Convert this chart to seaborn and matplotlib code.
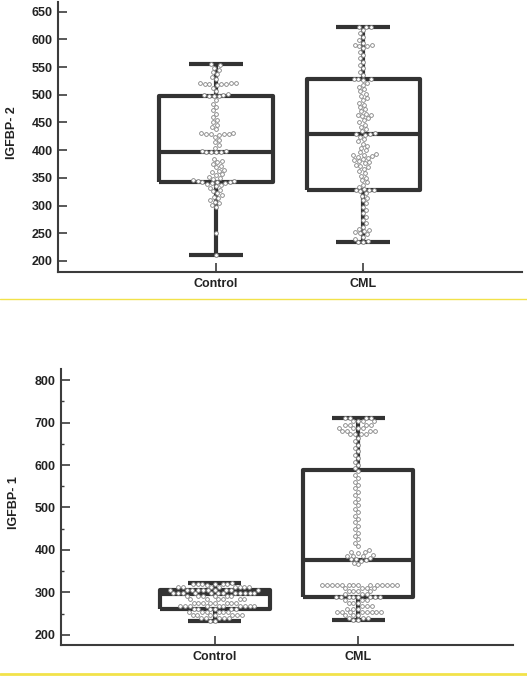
import matplotlib
matplotlib.use("Agg")
import matplotlib.pyplot as plt
import seaborn as sns
import pandas as pd
from matplotlib.lines import Line2D
from matplotlib.ticker import MultipleLocator

# ---------------- data ----------------
groups = ["Control", "CML"]

# IGFBP-2 panel (top)
igfbp2_control = [555, 553, 549, 545, 541, 537, 533, 529,
                  522, 521, 520, 520, 519, 519, 518, 521,
                  513, 507, 502, 500, 499, 498, 498, 497,
                  490, 484, 478, 472, 466, 460, 455, 450, 446, 442, 438,
                  431, 430, 430, 429, 429, 428, 431,
                  424, 419, 414, 409, 404,
                  399, 398, 397, 397, 396, 396,
                  384, 381, 378, 375, 372, 369, 365, 362, 360, 357, 355, 352,
                  350, 348, 346, 345, 344, 343, 342, 342, 341, 340, 339, 337,
                  335, 332, 329, 326, 322, 319, 316, 313, 310, 307, 304, 301, 298,
                  250, 210]
igfbp2_cml = [623, 622, 623, 617, 611, 605, 599, 594, 590, 590, 589, 589,
              584, 578, 572, 566, 560, 554, 548, 542, 536,
              529, 528, 528, 527,
              522, 518, 514, 510, 506, 502, 498, 494, 490, 486, 482, 478, 474,
              470, 466, 464, 463, 462, 458, 454, 450, 446, 442, 438, 434,
              431, 430, 430, 428, 424, 420, 416, 412, 408, 404, 400, 396, 394,
              392, 391, 390, 388, 386, 384, 382, 380, 378, 376, 374, 372, 369,
              366, 362, 358, 354, 350, 346, 342, 338, 334, 330, 329, 328, 328,
              326, 322, 318, 314, 310,
              304, 298, 292, 286, 280, 274, 268, 262, 258, 256, 254, 252, 250,
              248, 244, 240, 236, 235, 235]
igfbp2_q1 = [342, 328]
igfbp2_med = [397, 430]
igfbp2_q3 = [498, 528]
igfbp2_lo = [210, 235]
igfbp2_hi = [555, 623]

# IGFBP-1 panel (bottom)
igfbp1_control = [322, 321, 320, 320, 320, 320, 319, 318,
                  313, 313, 313, 313, 313, 313, 313, 313,
                  306, 306, 306, 306, 306, 306, 306, 306, 306, 306,
                  298, 298, 298, 298, 298, 298, 298, 298, 298, 298, 298, 298,
                  291, 291, 291, 291, 291, 291,
                  284, 284, 284, 284, 284, 284,
                  276, 276, 276, 276, 276, 276, 276, 276,
                  268, 268, 268, 268, 268, 268, 268, 268, 268, 268,
                  261, 261, 261, 261, 261, 261,
                  253, 253, 253, 253, 253, 253,
                  246, 246, 246, 246, 246, 246, 246,
                  239, 239, 239, 239, 239,
                  234, 233]
igfbp1_cml = [711, 711, 711, 711, 703, 703, 703, 703, 695, 695, 695, 695,
              687, 687, 687, 687, 679, 679, 679, 679, 672, 672, 672, 672,
              664, 656, 648, 640, 632, 624, 616, 608, 600, 592, 585, 577,
              569, 561, 553, 545, 537, 529, 521, 513, 505, 497, 489, 481,
              473, 465, 457, 449, 441, 433, 425, 417, 409, 401,
              396, 395, 394, 388, 387, 386, 385, 380, 379, 378, 376, 375, 370, 366,
              318, 318, 318, 318, 318, 318, 318, 318, 318, 318, 318, 318, 318, 318,
              310, 310, 310, 310, 303, 303, 303, 303, 296, 296, 296,
              289, 289, 289, 289, 289, 289, 289, 289,
              282, 282, 282, 275, 275, 275, 268, 268, 268, 261, 261, 261,
              253, 253, 253, 253, 253, 253, 253, 253,
              246, 246, 246, 239, 239, 239, 235, 235]
igfbp1_q1 = [260, 289]
igfbp1_med = [296, 376]
igfbp1_q3 = [306, 588]
igfbp1_lo = [233, 235]
igfbp1_hi = [322, 711]

# ---------------- style ----------------
sns.set_style("ticks")
plt.rcParams["font.family"] = ["Liberation Sans", "DejaVu Sans"]

BOX_C = "#333333"
SPINE_C = "#3c3c3c"

fig = plt.figure(figsize=(5.27, 6.76), dpi=100)
ax_top = fig.add_axes([0.110, 0.5976, 0.8805, 0.3994])
ax_bot = fig.add_axes([0.1157, 0.0459, 0.8577, 0.4083])


def panel(ax, ctrl, cml, q1, med, q3, lo, hi, ylim, major, minor, label, labx):
    stats = []
    for i in range(2):
        stats.append(dict(q1=q1[i], med=med[i], q3=q3[i],
                          whislo=lo[i], whishi=hi[i], fliers=[]))
    lp = dict(color=BOX_C, linewidth=3.0, solid_capstyle="butt")
    ax.bxp(stats, positions=[0, 1], widths=0.77, capwidths=0.37,
           showfliers=False, manage_ticks=False,
           boxprops=lp, whiskerprops=lp, capprops=lp, medianprops=lp,
           zorder=2)
    df = pd.DataFrame({
        "group": [groups[0]] * len(ctrl) + [groups[1]] * len(cml),
        "value": list(ctrl) + list(cml),
    })
    sns.swarmplot(data=df, x="group", y="value", order=groups, ax=ax,
                  size=2.7, color="white", edgecolor="#808080",
                  linewidth=0.6, zorder=3, warn_thresh=1.0)
    ax.set_xlim(-1.075, 2.08)
    ax.set_ylim(*ylim)
    ax.yaxis.set_major_locator(MultipleLocator(major))
    if minor:
        ax.yaxis.set_minor_locator(MultipleLocator(minor))
    ax.set_xticks([0, 1])
    ax.set_xticklabels(groups)
    ax.set_xlabel("")
    ax.set_ylabel(label, fontsize=9, fontweight="bold", color="#222222")
    ax.yaxis.set_label_coords(labx, 0.515)
    for s in ["top", "right"]:
        ax.spines[s].set_visible(False)
    for s in ["left", "bottom"]:
        ax.spines[s].set_linewidth(1.5)
        ax.spines[s].set_color(SPINE_C)
    ax.tick_params(axis="both", which="major", direction="in", length=6.5,
                   width=1.2, color=SPINE_C, labelsize=9, labelcolor="#222222")
    ax.tick_params(axis="y", which="minor", direction="in", length=2.5,
                   width=1.0, color=SPINE_C)
    ax.tick_params(axis="x", pad=4)
    ax.tick_params(axis="y", pad=4)
    for t in ax.get_xticklabels() + ax.get_yticklabels():
        t.set_fontweight("bold")


panel(ax_top, igfbp2_control, igfbp2_cml, igfbp2_q1, igfbp2_med, igfbp2_q3,
      igfbp2_lo, igfbp2_hi, (180, 667.5), 50, None, "IGFBP- 2", -0.086)
panel(ax_bot, igfbp1_control, igfbp1_cml, igfbp1_q1, igfbp1_med, igfbp1_q3,
      igfbp1_lo, igfbp1_hi, (176.5, 826), 100, 50, "IGFBP- 1", -0.091)

# yellow separator lines
fig.add_artist(Line2D([0, 1], [1 - 299 / 676] * 2, transform=fig.transFigure,
                      color="#f2e24a", linewidth=1.0))
fig.add_artist(Line2D([0, 1], [1 - 674 / 676] * 2, transform=fig.transFigure,
                      color="#f2e24a", linewidth=2.0))

fig.savefig("out.png", dpi=100)
